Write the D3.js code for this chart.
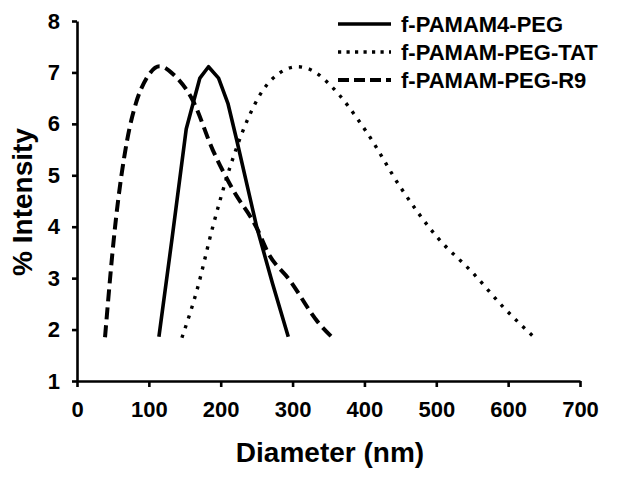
<!DOCTYPE html>
<html>
<head>
<meta charset="utf-8">
<script src="https://cdn.jsdelivr.net/npm/d3@7"></script>
<style>
  body { margin: 0; background: #fff; }
  text { font-family: "Liberation Sans", Arial, sans-serif; font-weight: bold; fill: #000; }
</style>
</head>
<body>
<div class="chart"></div>
<script>
// series: [diameter nm, % intensity]
var pamam4Peg = [[114, 1.86], [132, 3.74], [152, 5.9], [171, 6.89], [183, 7.11], [197, 6.89],
  [210, 6.4], [222, 5.7], [250, 4.0], [272, 2.9], [294, 1.86]];
var pamamPegTat = [[146, 1.84], [167, 2.77], [189, 4.0], [213, 5.16], [237, 6.07], [259, 6.66],
  [282, 6.99], [307, 7.11], [331, 7.01], [352, 6.76], [404, 5.82], [450, 4.77], [501, 3.8],
  [551, 3.1], [593, 2.44], [637, 1.84]];
var pamamPegR9 = [[39, 1.85], [53, 4.0], [70, 5.7], [82, 6.4], [97, 6.89], [115, 7.12], [135, 6.95],
  [161, 6.46], [189, 5.49], [217, 4.72], [250, 3.98], [266, 3.49], [296, 2.96], [335, 2.15], [355, 1.85]];

var seriesNames = ["f-PAMAM4-PEG", "f-PAMAM-PEG-TAT", "f-PAMAM-PEG-R9"];
var xTicks = [0, 100, 200, 300, 400, 500, 600, 700];
var yTicks = [1, 2, 3, 4, 5, 6, 7, 8];

var svgWidth = 624;
var svgHeight = 480;

var svg = d3.select(".chart")
  .append("svg")
  .attr("width", svgWidth)
  .attr("height", svgHeight);

var xScale = d3.scaleLinear().domain([0, 700]).range([77, 580]);
var yScale = d3.scaleLinear().domain([1, 8]).range([381, 21]);

// axes
var xAxis = svg.append("g")
  .attr("transform", "translate(0, 381)")
  .call(d3.axisBottom(xScale).tickValues(xTicks).tickFormat(d3.format("d"))
    .tickSize(6).tickSizeOuter(0).tickPadding(14));

var yAxis = svg.append("g")
  .attr("transform", "translate(77, 0)")
  .call(d3.axisLeft(yScale).tickValues(yTicks).tickFormat(d3.format("d"))
    .tickSize(5).tickSizeOuter(0).tickPadding(12));

[xAxis, yAxis].forEach(function(g) {
  g.selectAll("path, line").attr("stroke", "#000").attr("stroke-width", 2.6);
  g.selectAll("text")
    .attr("font-size", "22px")
    .attr("font-family", "Liberation Sans, Arial, sans-serif")
    .attr("font-weight", "bold")
    .attr("fill", "#000");
});

// lines
var smooth = d3.line()
  .x(d => xScale(d[0]))
  .y(d => yScale(d[1]))
  .curve(d3.curveMonotoneX);

var straight = d3.line()
  .x(d => xScale(d[0]))
  .y(d => yScale(d[1]));

var styles = [
  { data: pamam4Peg, gen: straight, dash: null, legendDash: null, width: 3.6 },
  { data: pamamPegTat, gen: smooth, dash: "3.2,7", legendDash: "3.2,5.3", width: 3.4 },
  { data: pamamPegR9, gen: smooth, dash: "12,6", legendDash: "11,5", width: 4 }
];

styles.forEach(function(s) {
  svg.append("path")
    .attr("d", s.gen(s.data))
    .attr("fill", "none")
    .attr("stroke", "#000")
    .attr("stroke-width", s.width)
    .attr("stroke-linejoin", "round")
    .attr("stroke-dasharray", s.dash);
});

// legend
var legend = svg.append("g");
seriesNames.forEach(function(name, i) {
  var y = 24 + i * 28;
  legend.append("line")
    .attr("x1", 338).attr("x2", 391)
    .attr("y1", y).attr("y2", y)
    .attr("stroke", "#000")
    .attr("stroke-width", styles[i].width)
    .attr("stroke-dasharray", styles[i].legendDash);
  legend.append("text")
    .attr("x", 401)
    .attr("y", y)
    .attr("dy", "0.35em")
    .attr("font-size", "22px")
    .text(name);
});

// axis titles
svg.append("text")
  .attr("x", 330)
  .attr("y", 462)
  .attr("text-anchor", "middle")
  .attr("font-size", "28px")
  .text("Diameter (nm)");

svg.append("text")
  .attr("transform", "translate(32, 202) rotate(-90)")
  .attr("text-anchor", "middle")
  .attr("font-size", "28px")
  .text("% Intensity");
</script>
</body>
</html>
